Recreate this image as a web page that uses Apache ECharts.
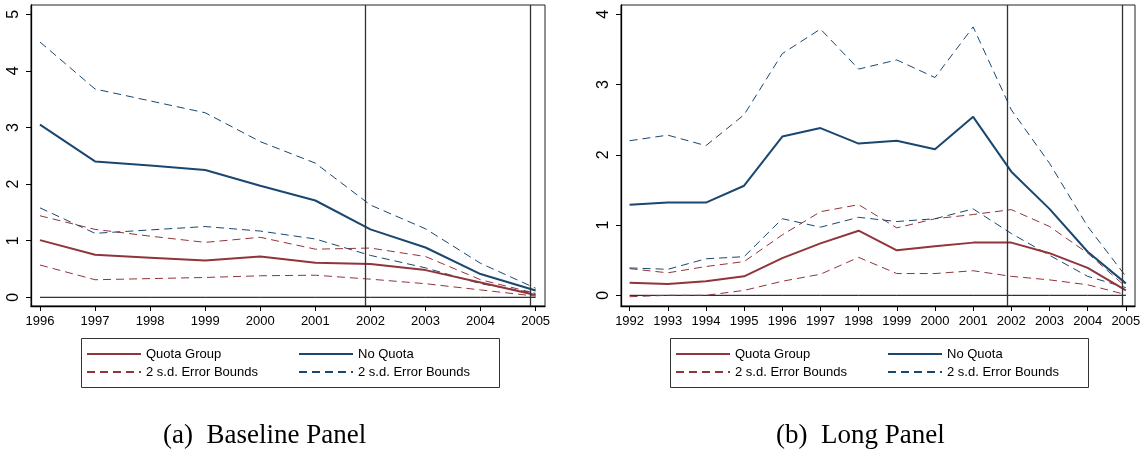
<!DOCTYPE html>
<html>
<head>
<meta charset="utf-8">
<script src="https://cdn.jsdelivr.net/npm/echarts@6/dist/echarts.min.js"></script>
<style>
html,body{margin:0;padding:0;background:#fff;}
#chart{width:1146px;height:451px;}
</style>
</head>
<body>
<div id="chart"></div>
<script>
// ---------- Data ----------
const yearsA = [1996, 1997, 1998, 1999, 2000, 2001, 2002, 2003, 2004, 2005];
const quotaA      = [1.01, 0.75, 0.70, 0.65, 0.72, 0.61, 0.59, 0.48, 0.26, 0.04];
const quotaHiA    = [1.44, 1.20, 1.08, 0.97, 1.06, 0.85, 0.87, 0.72, 0.31, 0.07];
const quotaLoA    = [0.57, 0.31, 0.33, 0.35, 0.38, 0.39, 0.32, 0.24, 0.13, 0.02];
const noQuotaA    = [3.05, 2.40, 2.33, 2.25, 1.97, 1.71, 1.20, 0.88, 0.41, 0.12];
const noQuotaHiA  = [4.51, 3.68, 3.47, 3.26, 2.75, 2.37, 1.63, 1.21, 0.60, 0.16];
const noQuotaLoA  = [1.58, 1.13, 1.19, 1.25, 1.17, 1.03, 0.74, 0.52, 0.24, 0.07];

const yearsB = [1992, 1993, 1994, 1995, 1996, 1997, 1998, 1999, 2000, 2001, 2002, 2003, 2004, 2005];
const quotaB      = [0.18, 0.16, 0.20, 0.27, 0.53, 0.74, 0.92, 0.64, 0.70, 0.75, 0.75, 0.60, 0.39, 0.07];
const quotaHiB    = [0.38, 0.32, 0.41, 0.48, 0.86, 1.19, 1.29, 0.96, 1.09, 1.15, 1.22, 0.98, 0.60, 0.12];
const quotaLoB    = [-0.02, 0.00, 0.00, 0.07, 0.20, 0.30, 0.54, 0.31, 0.31, 0.35, 0.27, 0.22, 0.15, 0.01];
const noQuotaB    = [1.29, 1.32, 1.32, 1.56, 2.26, 2.38, 2.16, 2.20, 2.08, 2.54, 1.76, 1.23, 0.62, 0.17];
const noQuotaHiB  = [2.20, 2.28, 2.13, 2.57, 3.44, 3.79, 3.22, 3.35, 3.10, 3.82, 2.64, 1.88, 0.98, 0.27];
const noQuotaLoB  = [0.39, 0.37, 0.52, 0.55, 1.09, 0.97, 1.11, 1.05, 1.09, 1.23, 0.88, 0.57, 0.27, 0.11];

const yTicksA = [0, 1, 2, 3, 4, 5];
const yTicksB = [0, 1, 2, 3, 4];
const eventLines = [2001.9, 2004.9];

const legendLabels = {
  q: 'Quota Group', qb: '2 s.d. Error Bounds',
  n: 'No Quota', nb: '2 s.d. Error Bounds'
};
const captions = ['(a)  Baseline Panel', '(b)  Long Panel'];

// ---------- Styles ----------
const RED = '#90353b';
const BLUE = '#1a476f';
const FONT = 'Liberation Sans, Arial, sans-serif';

function pairs(xs, ys) { return xs.map((x, i) => [x, ys[i]]); }

function axisPair(gi, years, yTicks, xmin, xmax, ymin, ymax) {
  const x = {
    type: 'value', gridIndex: gi, min: xmin, max: xmax,
    axisLine: { show: true, onZero: false, lineStyle: { color: '#000', width: 1.3 } },
    axisTick: { show: true, length: 5, customValues: years, lineStyle: { color: '#000' } },
    axisLabel: { customValues: years, margin: 9, color: '#000', fontSize: 13, fontFamily: FONT,
                 formatter: v => String(v) },
    splitLine: { show: false }
  };
  const y = {
    type: 'value', gridIndex: gi, min: ymin, max: ymax,
    axisLine: { show: true, onZero: false, lineStyle: { color: '#000', width: 1.3 } },
    axisTick: { show: true, length: 5, customValues: yTicks, lineStyle: { color: '#000' } },
    axisLabel: { customValues: yTicks, rotate: 90, margin: 9, color: '#000', fontSize: 16, fontFamily: FONT,
                 formatter: v => String(v) },
    splitLine: { show: false }
  };
  return [x, y];
}

function panelSeries(gi, years, q, qh, ql, n, nh, nl) {
  const base = { type: 'line', xAxisIndex: gi, yAxisIndex: gi, symbol: 'none', silent: true, animation: false };
  const dash = { type: [8, 5] };
  const zeroLine = Object.assign({}, base, {
    name: 'zero' + gi, data: pairs(years, years.map(() => 0)),
    lineStyle: { color: '#000', width: 1 }, z: 1,
    markLine: {
      silent: true, symbol: 'none', label: { show: false }, animation: false,
      lineStyle: { color: '#333', width: 1.3, type: 'solid' },
      data: eventLines.map(v => ({ xAxis: v }))
    }
  });
  return [
    zeroLine,
    Object.assign({}, base, { name: 'qb', data: pairs(years, qh), lineStyle: Object.assign({ color: RED, width: 1 }, dash), itemStyle: { color: RED } }),
    Object.assign({}, base, { name: 'qb', data: pairs(years, ql), lineStyle: Object.assign({ color: RED, width: 1 }, dash), itemStyle: { color: RED } }),
    Object.assign({}, base, { name: 'nb', data: pairs(years, nh), lineStyle: Object.assign({ color: BLUE, width: 1 }, dash), itemStyle: { color: BLUE } }),
    Object.assign({}, base, { name: 'nb', data: pairs(years, nl), lineStyle: Object.assign({ color: BLUE, width: 1 }, dash), itemStyle: { color: BLUE } }),
    Object.assign({}, base, { name: 'q', data: pairs(years, q), lineStyle: { color: RED, width: 2 }, itemStyle: { color: RED }, z: 3 }),
    Object.assign({}, base, { name: 'n', data: pairs(years, n), lineStyle: { color: BLUE, width: 2 }, itemStyle: { color: BLUE }, z: 3 })
  ];
}

function legendCol(names, left) {
  return {
    data: names, orient: 'vertical', left: left, top: 347, padding: 0,
    itemWidth: 54, itemHeight: 14, itemGap: 4, selectedMode: false,
    itemStyle: { opacity: 0, color: 'rgba(0,0,0,0)', borderWidth: 0 },
    textStyle: { fontSize: 13, fontFamily: FONT, color: '#000', lineHeight: 14 },
    formatter: name => legendLabels[name]
  };
}

const [xA, yA] = axisPair(0, yearsA, yTicksA, 1995.837, 2005.17, -0.154, 5.164);
const [xB, yB] = axisPair(1, yearsB, yTicksB, 1991.775, 2005.24, -0.152, 4.132);

const option = {
  backgroundColor: '#fff',
  animation: false,
  grid: [
    { left: 31, top: 5, width: 514, height: 301, show: true, borderColor: '#222', borderWidth: 1, backgroundColor: 'transparent' },
    { left: 621, top: 5, width: 514, height: 301, show: true, borderColor: '#222', borderWidth: 1, backgroundColor: 'transparent' }
  ],
  xAxis: [xA, xB],
  yAxis: [yA, yB],
  legend: [
    legendCol(['q', 'qb'], 86),
    legendCol(['n', 'nb'], 298),
    legendCol(['q', 'qb'], 675),
    legendCol(['n', 'nb'], 887)
  ],
  graphic: [
    { type: 'rect', left: 79, top: 336, shape: { width: 418, height: 49 }, style: { fill: 'none', stroke: '#333', lineWidth: 1 }, silent: true },
    { type: 'rect', left: 668, top: 336, shape: { width: 418, height: 49 }, style: { fill: 'none', stroke: '#333', lineWidth: 1 }, silent: true },
    { type: 'text', left: 163, top: 422, style: { text: captions[0], font: '27px "Liberation Serif", "Times New Roman", serif', fill: '#000' }, silent: true },
    { type: 'text', left: 776, top: 422, style: { text: captions[1], font: '27px "Liberation Serif", "Times New Roman", serif', fill: '#000' }, silent: true }
  ],
  series: panelSeries(0, yearsA, quotaA, quotaHiA, quotaLoA, noQuotaA, noQuotaHiA, noQuotaLoA)
    .concat(panelSeries(1, yearsB, quotaB, quotaHiB, quotaLoB, noQuotaB, noQuotaHiB, noQuotaLoB))
};

const chart = echarts.init(document.getElementById('chart'), null, { renderer: 'canvas' });
chart.setOption(option);
</script>
</body>
</html>
